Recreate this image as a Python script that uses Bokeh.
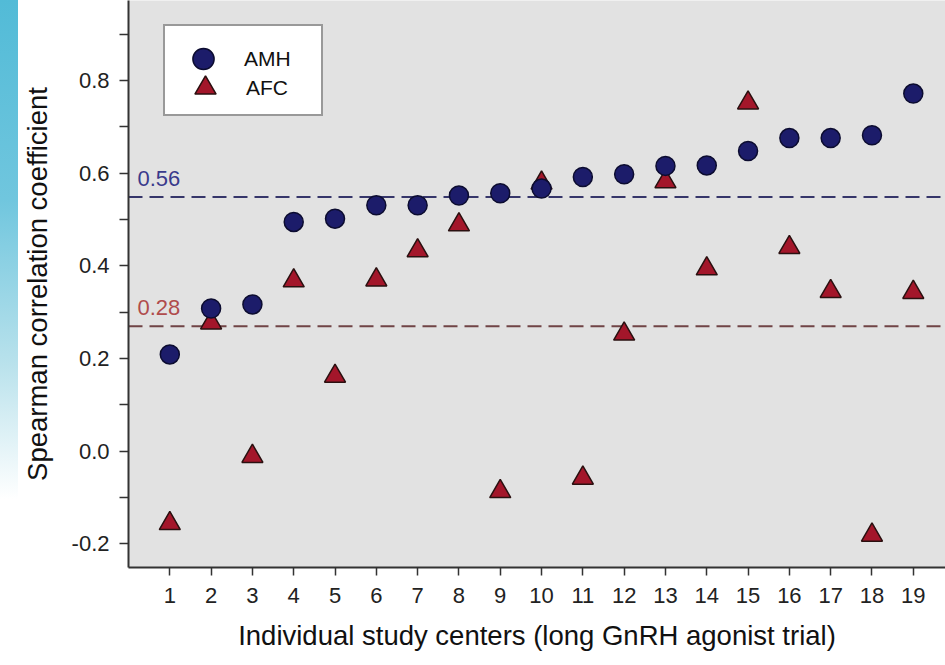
from bokeh.plotting import figure
from bokeh.models import Span, Legend, LegendItem, FixedTicker, NumeralTickFormatter, Div
from bokeh.layouts import row
from bokeh.core.properties import value
from bokeh.embed import file_html
from bokeh.resources import INLINE

# ---- data ----
centers = list(range(1, 20))
amh = [0.209, 0.308, 0.317, 0.495, 0.502, 0.531, 0.531, 0.552, 0.557, 0.567,
       0.592, 0.598, 0.616, 0.617, 0.648, 0.676, 0.676, 0.682, 0.772]
afc = [-0.156, 0.277, -0.011, 0.368, 0.162, 0.370, 0.433, 0.489, -0.087, 0.579,
       -0.058, 0.253, 0.582, 0.394, 0.752, 0.440, 0.345, -0.181, 0.343]
median_lines = [0.549, 0.270]
median_labels = ["0.56", "0.28"]
y_ticks = [-0.2, 0.0, 0.2, 0.4, 0.6, 0.8]
y_minor = [-0.1, 0.1, 0.3, 0.5, 0.7, 0.9]

FONT = "Liberation Sans"
AMH_FILL = "#1c1c6a"
AFC_FILL = "#a3162a"

p = figure(width=927, height=665, x_range=(0, 19.78), y_range=(-0.251, 0.973),
           output_backend="svg", toolbar_location=None,
           min_border_left=110, min_border_right=0, min_border_top=0, min_border_bottom=98,
           background_fill_color="#e2e2e2", border_fill_color="white",
           outline_line_color=None)
p.grid.visible = False

# median reference lines
line_colors = ["#36366a", "#704446"]
for loc, col in zip(median_lines, line_colors):
    p.add_layout(Span(location=loc, dimension="width", line_color=col,
                      line_dash="14 7", line_width=2, level="underlay"))

p.text(x=[0, 0], y=median_lines, text=median_labels,
       text_color=["#3a3a8c", "#b04c4c"], text_font=value(FONT),
       text_font_size=value("22px"), text_baseline="bottom",
       x_offset=9, y_offset=-11)

r_afc = p.scatter(centers, afc, marker="triangle", size=21, fill_color=AFC_FILL,
                  line_color="#2a1010", line_width=1.5)
r_amh = p.scatter(centers, amh, marker="circle", size=19, fill_color=AMH_FILL,
                  line_color="#0c0c30", line_width=1.5)

common = dict(padding=0, margin=0, glyph_width=80, glyph_height=53, label_height=53,
              label_width=75, label_standoff=1, label_text_font=FONT,
              label_text_font_size="21px", label_text_color="#111111")

# boxed legend (carries the frame) with the AFC entry at the bottom
legend_box = Legend(items=[LegendItem(label="AFC", renderers=[r_afc])],
                    location=(35, 451), title=" ", title_text_font_size="20px",
                    title_standoff=12,
                    border_line_color="#333333", border_line_width=2,
                    background_fill_color="white", background_fill_alpha=1.0, **common)
# AMH entry stacked above it inside the same box
legend_top = Legend(items=[LegendItem(label="AMH", renderers=[r_amh])],
                    location=(35, 482), border_line_color=None,
                    background_fill_alpha=0.0, **common)
p.add_layout(legend_box, "center")
p.add_layout(legend_top, "center")

# axes
for ax in (p.xaxis[0], p.yaxis[0]):
    ax.axis_line_color = "#333333"
    ax.axis_line_width = 2
    ax.major_tick_line_color = "#333333"
    ax.major_tick_line_width = 1.5
    ax.major_tick_in = 0
    ax.major_label_text_font = FONT
    ax.major_label_text_font_size = "22px"
    ax.major_label_text_color = "#222222"
    ax.axis_label_text_font = FONT
    ax.axis_label_text_font_size = "27.5px"
    ax.axis_label_text_font_style = "normal"
    ax.axis_label_text_color = "#111111"

p.xaxis.ticker = FixedTicker(ticks=centers)
p.xaxis.major_tick_out = 8
p.xaxis.minor_tick_line_color = None
p.xaxis.major_label_standoff = 12
p.xaxis.axis_label = "Individual study centers (long GnRH agonist trial)"
p.xaxis.axis_label_standoff = 14

p.yaxis.ticker = FixedTicker(ticks=y_ticks, minor_ticks=y_minor)
p.yaxis.formatter = NumeralTickFormatter(format="0.0")
p.yaxis.major_tick_out = 9
p.yaxis.minor_tick_out = 9
p.yaxis.minor_tick_in = 0
p.yaxis.minor_tick_line_color = "#333333"
p.yaxis.minor_tick_line_width = 1.5
p.yaxis.major_label_standoff = 10
p.yaxis.axis_label = "Spearman correlation coefficient"
p.yaxis.axis_label_standoff = 16

strip = Div(text="", width=18, height=665, margin=0,
            styles={"background": "linear-gradient(to bottom, #52bbd7 0%, #70c6de 30%, #bae2ec 55%, #ffffff 75%)"})

layout = row(strip, p, spacing=0)
open("out.html", "w").write(file_html(layout, INLINE))
